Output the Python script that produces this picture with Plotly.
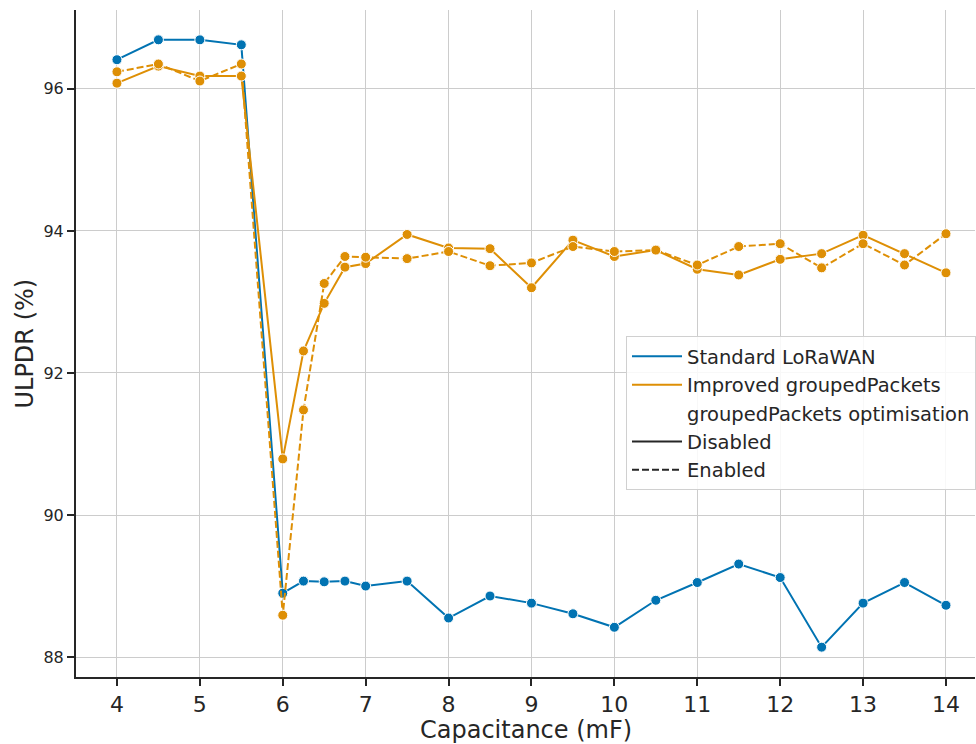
import plotly.graph_objects as go

capacitance = [4, 4.5, 5, 5.5, 6, 6.25, 6.5, 6.75, 7, 7.5, 8, 8.5, 9, 9.5, 10, 10.5, 11, 11.5, 12, 12.5, 13, 13.5, 14]

standard_disabled = [96.41, 96.69, 96.69, 96.62, 88.90, 89.07, 89.06, 89.07, 89.00, 89.07, 88.55, 88.86,
                     88.76, 88.61, 88.42, 88.80, 89.05, 89.31, 89.12, 88.14, 88.76, 89.05, 88.73]
improved_disabled = [96.08, 96.32, 96.18, 96.18, 90.79, 92.31, 92.98, 93.49, 93.54, 93.95, 93.76, 93.75,
                     93.20, 93.87, 93.64, 93.73, 93.46, 93.38, 93.60, 93.68, 93.94, 93.68, 93.41]
improved_enabled = [96.24, 96.35, 96.11, 96.35, 88.59, 91.48, 93.26, 93.64, 93.63, 93.61, 93.71, 93.51,
                    93.55, 93.78, 93.71, 93.73, 93.52, 93.78, 93.82, 93.48, 93.82, 93.52, 93.96]

x_ticks = [4, 5, 6, 7, 8, 9, 10, 11, 12, 13, 14]
y_ticks = [88, 90, 92, 94, 96]

BLUE = "#0173b2"
ORANGE = "#de8f05"
TEXT = "#262626"
FONT = "DejaVu Sans"

fig = go.Figure()

def add_series(y, color, dash):
    fig.add_trace(go.Scatter(
        x=capacitance, y=y, mode="lines+markers",
        line=dict(color=color, width=2, dash=dash),
        marker=dict(size=10, color=color, line=dict(color="white", width=1)),
        showlegend=False, hoverinfo="x+y",
    ))

add_series(standard_disabled, BLUE, "solid")
add_series(improved_disabled, ORANGE, "solid")
add_series(improved_enabled, ORANGE, "7px,3px")

legend_items = [
    ("Standard LoRaWAN", BLUE, "solid"),
    ("Improved groupedPackets", ORANGE, "solid"),
    ("groupedPackets optimisation", "rgba(0,0,0,0)", "solid"),
    ("Disabled", TEXT, "solid"),
    ("Enabled", TEXT, "7px,3px"),
]
for name, color, dash in legend_items:
    fig.add_trace(go.Scatter(
        x=[None], y=[None], mode="lines", name=name,
        line=dict(color=color, width=2, dash=dash),
    ))

fig.update_layout(
    width=976, height=744,
    margin=dict(l=76, r=0, t=10, b=67),
    paper_bgcolor="white", plot_bgcolor="white",
    font=dict(family=FONT, color=TEXT),
    legend=dict(
        x=0.612, y=0.511, xanchor="left", yanchor="top",
        bgcolor="rgba(255,255,255,0.85)", bordercolor="#d0d0d0", borderwidth=1,
        font=dict(size=19.5, family=FONT, color=TEXT),
        tracegroupgap=0, itemwidth=50,
    ),
    xaxis=dict(
        range=[3.506, 14.35], tickvals=x_ticks, ticktext=[str(v) for v in x_ticks],
        showgrid=True, gridcolor="#cccccc", gridwidth=1.2,
        showline=True, linecolor=TEXT, linewidth=2,
        ticks="outside", ticklen=7, tickwidth=1.5, tickcolor=TEXT,
        tickfont=dict(size=22, family=FONT, color=TEXT),
        automargin=False, zeroline=False,
    ),
    yaxis=dict(
        range=[87.72, 97.11], tickvals=y_ticks, ticktext=[str(v) for v in y_ticks],
        showgrid=True, gridcolor="#cccccc", gridwidth=1.2,
        showline=True, linecolor=TEXT, linewidth=2,
        ticks="outside", ticklen=7, tickwidth=1.5, tickcolor=TEXT,
        tickfont=dict(size=16, family=FONT, color=TEXT),
        automargin=False, zeroline=False,
    ),
    annotations=[
        dict(text="Capacitance (mF)", xref="paper", yref="paper", x=0.5, y=-0.0795,
             xanchor="center", yanchor="middle", showarrow=False,
             font=dict(size=24, family=FONT, color=TEXT)),
        dict(text="ULPDR (%)", xref="paper", yref="paper", x=-0.0578, y=0.5,
             xanchor="center", yanchor="middle", textangle=-90, showarrow=False,
             font=dict(size=24, family=FONT, color=TEXT)),
    ],
)

fig.write_html(
    "out.html",
    config={"displayModeBar": False},
    post_script="document.body.style.margin='0';document.body.style.overflow='hidden';",
)
